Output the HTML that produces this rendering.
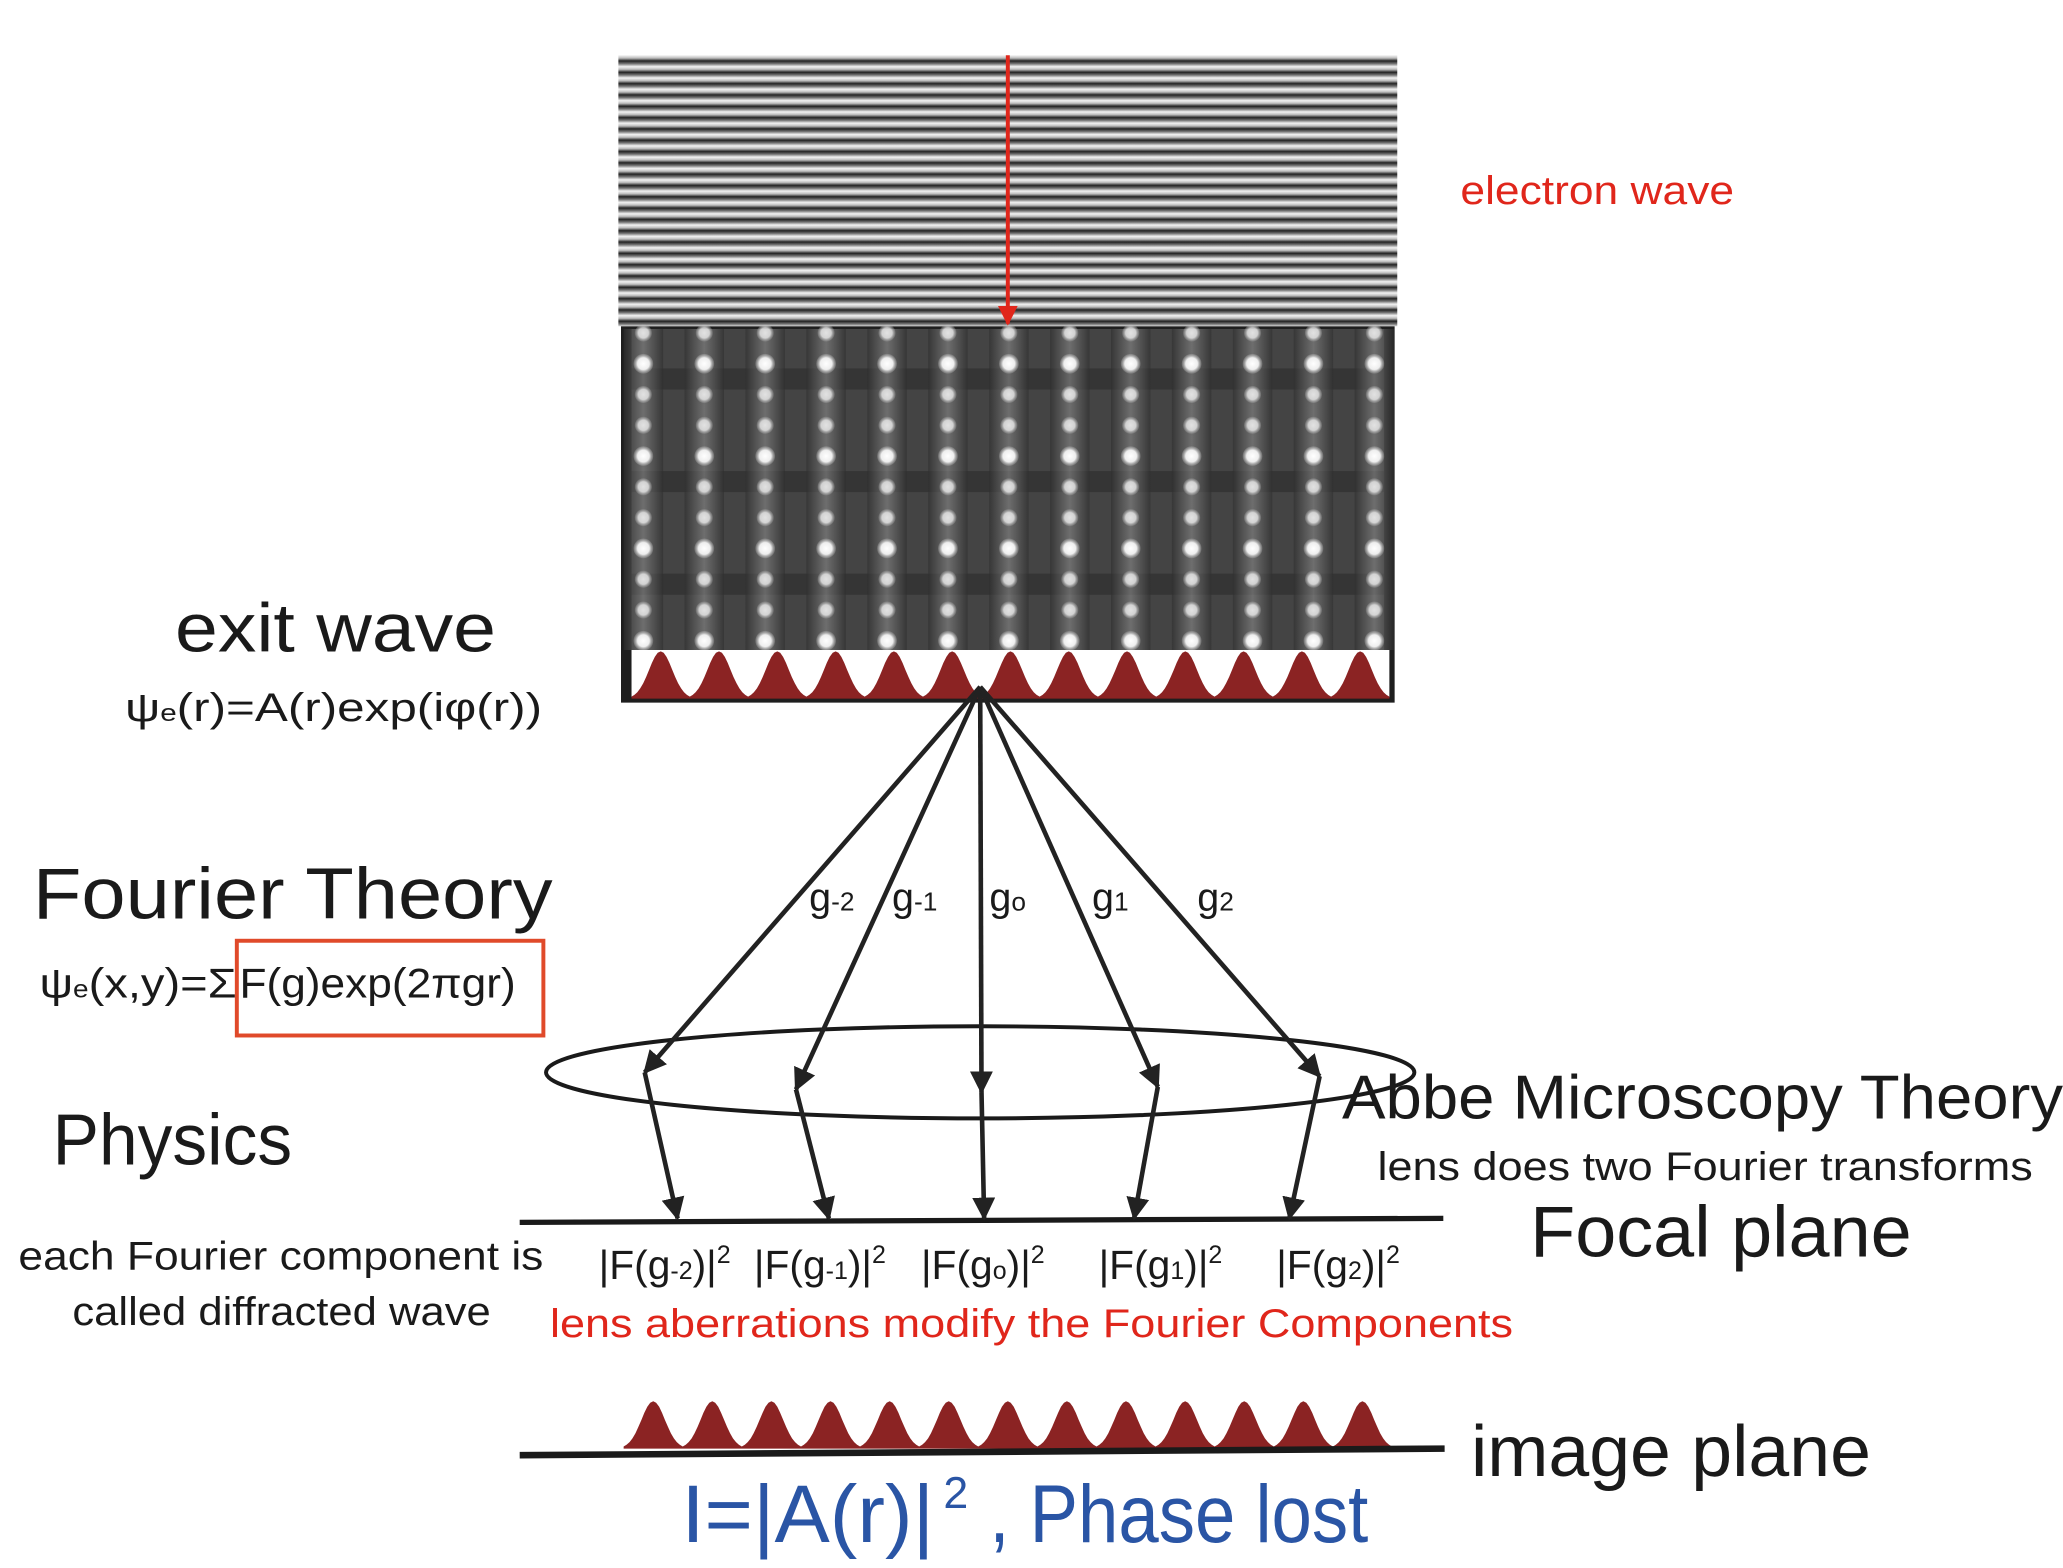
<!DOCTYPE html>
<html><head><meta charset="utf-8"><style>
html,body{margin:0;padding:0;background:#fff;}
svg{display:block;}
text{font-family:"Liberation Sans",sans-serif;}
</style></head><body>
<svg id="s" width="2063" height="1568" viewBox="0 0 1568 1191.7" xmlns="http://www.w3.org/2000/svg">
<defs>
<linearGradient id="sg" x1="0" x2="0" y1="0" y2="1">
<stop offset="0" stop-color="#f4f4f4"/><stop offset="0.25" stop-color="#bbb"/><stop offset="0.5" stop-color="#222"/><stop offset="0.75" stop-color="#777"/><stop offset="1" stop-color="#f4f4f4"/>
</linearGradient>
<pattern id="stripes" x="0" y="42" width="10" height="8.6" patternUnits="userSpaceOnUse">
<rect width="10" height="8.6" fill="url(#sg)"/>
</pattern>
<linearGradient id="col" x1="0" x2="1" y1="0" y2="0">
<stop offset="0" stop-color="#2e2e2e"/><stop offset="0.5" stop-color="#8a8a8a"/><stop offset="1" stop-color="#2e2e2e"/>
</linearGradient>
<radialGradient id="dot"><stop offset="0" stop-color="#fff"/><stop offset="0.6" stop-color="#eee"/><stop offset="1" stop-color="#aaa" stop-opacity="0.3"/></radialGradient>
<marker id="ah" viewBox="0 0 10 10" refX="9" refY="5" markerWidth="5" markerHeight="5" orient="auto"><path d="M0,0 L10,5 L0,10 z" fill="#222"/></marker>
<marker id="ahr" viewBox="0 0 10 10" refX="9" refY="5" markerWidth="5" markerHeight="5" orient="auto"><path d="M0,0 L10,5 L0,10 z" fill="#e0261b"/></marker>
</defs>
<rect x="470" y="42" width="592" height="206" fill="url(#stripes)"/>
<rect x="472" y="248" width="588" height="286" fill="#1e1e1e"/>
<rect x="480" y="250" width="572" height="244" fill="#444"/>
<g id="cry"></g>
<rect x="480" y="494" width="576" height="36" fill="#fff"/>
<path id="bell1" fill="#8b2323"/>
<line x1="766" y1="42" x2="766" y2="246" stroke="#e0261b" stroke-width="3" marker-end="url(#ahr)"/>
<path id="bell2" fill="#8b2323"/>
<line x1="395" y1="929" x2="1097" y2="926" stroke="#1a1a1a" stroke-width="4"/>
<line x1="395" y1="1106" x2="1098" y2="1101" stroke="#1a1a1a" stroke-width="5"/>
<ellipse cx="745" cy="815" rx="330" ry="35" fill="none" stroke="#1a1a1a" stroke-width="3"/>
<g stroke="#222" stroke-width="3.5" fill="none" marker-end="url(#ah)">
<line x1="745" y1="522" x2="490" y2="815"/>
<line x1="745" y1="522" x2="605" y2="828"/>
<line x1="745" y1="522" x2="746" y2="830"/>
<line x1="745" y1="522" x2="880" y2="826"/>
<line x1="745" y1="522" x2="1003" y2="818"/>
<line x1="490" y1="815" x2="515" y2="926"/>
<line x1="605" y1="828" x2="630" y2="926"/>
<line x1="746" y1="830" x2="748" y2="926"/>
<line x1="880" y1="826" x2="862" y2="926"/>
<line x1="1003" y1="818" x2="980" y2="926"/>
</g>
<g>
<text x="1110" y="155" font-size="30" fill="#e0261b" textLength="208" lengthAdjust="spacingAndGlyphs">electron wave</text>
<text x="133" y="495" font-size="52" fill="#1a1a1a" textLength="244" lengthAdjust="spacingAndGlyphs">exit wave</text>
<text x="95" y="548" font-size="30" fill="#1a1a1a" textLength="317" lengthAdjust="spacingAndGlyphs">ψ<tspan font-size="18">e</tspan>(r)=A(r)exp(iφ(r))</text>
<text x="25" y="698" font-size="55" fill="#1a1a1a" textLength="395" lengthAdjust="spacingAndGlyphs">Fourier Theory</text>
<text x="30" y="758" font-size="32" fill="#1a1a1a" textLength="150" lengthAdjust="spacingAndGlyphs">ψ<tspan font-size="19">e</tspan>(x,y)=Σ</text>
<text x="182" y="758" font-size="32" fill="#1a1a1a" textLength="210" lengthAdjust="spacingAndGlyphs">F(g)exp(2πgr)</text>
<rect x="180" y="715" width="233" height="72" fill="none" stroke="#e04a2a" stroke-width="3"/>
<text x="40" y="885" font-size="55" fill="#1a1a1a" textLength="182" lengthAdjust="spacingAndGlyphs">Physics</text>
<text x="14" y="965" font-size="30" fill="#1a1a1a" textLength="399" lengthAdjust="spacingAndGlyphs">each Fourier component is</text>
<text x="55" y="1007" font-size="30" fill="#1a1a1a" textLength="318" lengthAdjust="spacingAndGlyphs">called diffracted wave</text>
<g font-size="30" fill="#1a1a1a">
<text x="615" y="692">g<tspan font-size="20">-2</tspan></text>
<text x="678" y="692">g<tspan font-size="20">-1</tspan></text>
<text x="752" y="692">g<tspan font-size="20">o</tspan></text>
<text x="830" y="692">g<tspan font-size="20">1</tspan></text>
<text x="910" y="692">g<tspan font-size="20">2</tspan></text>
</g>
<text x="1020" y="850" font-size="47" fill="#1a1a1a" textLength="548" lengthAdjust="spacingAndGlyphs">Abbe Microscopy Theory</text>
<text x="1047" y="897" font-size="30" fill="#1a1a1a" textLength="498" lengthAdjust="spacingAndGlyphs">lens does two Fourier transforms</text>
<text x="1163" y="955" font-size="55" fill="#1a1a1a" textLength="290" lengthAdjust="spacingAndGlyphs">Focal plane</text>
<g font-size="31" fill="#1a1a1a">
<text x="455" y="972">|F(g<tspan font-size="19">-2</tspan>)|<tspan font-size="19" dy="-12">2</tspan></text>
<text x="573" y="972">|F(g<tspan font-size="19">-1</tspan>)|<tspan font-size="19" dy="-12">2</tspan></text>
<text x="700" y="972">|F(g<tspan font-size="19">o</tspan>)|<tspan font-size="19" dy="-12">2</tspan></text>
<text x="835" y="972">|F(g<tspan font-size="19">1</tspan>)|<tspan font-size="19" dy="-12">2</tspan></text>
<text x="970" y="972">|F(g<tspan font-size="19">2</tspan>)|<tspan font-size="19" dy="-12">2</tspan></text>
</g>
<text x="418" y="1016" font-size="30" fill="#e0261b" textLength="732" lengthAdjust="spacingAndGlyphs">lens aberrations modify the Fourier Components</text>
<text x="1118" y="1122" font-size="55" fill="#1a1a1a" textLength="304" lengthAdjust="spacingAndGlyphs">image plane</text>
<text x="518" y="1172" font-size="62" fill="#2a55a5" textLength="192" lengthAdjust="spacingAndGlyphs">I=|A(r)|</text>
<text x="717" y="1146" font-size="34" fill="#2a55a5">2</text>
<text x="752" y="1172" font-size="62" fill="#2a55a5" textLength="288" lengthAdjust="spacingAndGlyphs">, Phase lost</text>
</g>
</svg>
<script>
var ns="http://www.w3.org/2000/svg",g=document.getElementById("cry");
function el(t,a){var e=document.createElementNS(ns,t);for(var k in a)e.setAttribute(k,a[k]);g.appendChild(e);return e;}
for(var r=0;r<3;r++){el("rect",{x:480,y:258+r*78+22,width:572,height:16,fill:"#262626",opacity:0.5});}
for(var c=0;c<13;c++){var x=489+c*46.3;
 el("rect",{x:x-15,y:250,width:30,height:244,fill:"url(#col)",opacity:0.6});
 for(var i=0;i<11;i++){var y=253+i*23.4;var br=(i%3==1);
  el("circle",{cx:x,cy:y,r:br?7.5:6.5,fill:"url(#dot)",opacity:br?1:0.8});}}
function bells(id,x0,x1,yb,h,n){var p="M"+x0+","+yb;var w=(x1-x0)/n;
 for(var k=0;k<n;k++){for(var j=0;j<=20;j++){var t=j/20;var xx=x0+k*w+t*w;var d=(t-0.5)/0.2;p+=" L"+xx.toFixed(1)+","+(yb-h*Math.exp(-d*d/2)).toFixed(1);}}
 p+=" L"+x1+","+yb+" Z";document.getElementById(id).setAttribute("d",p);}
bells("bell1",480,1056,531,36,13);
bells("bell2",474,1058,1101,36,13);
</script>
</body></html>
